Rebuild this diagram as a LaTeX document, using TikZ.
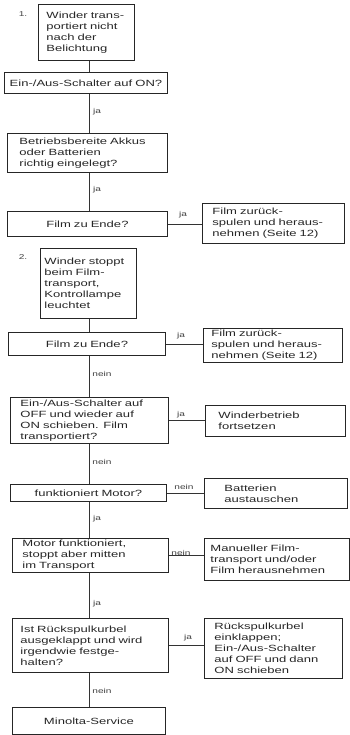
\documentclass[tikz,border=0pt]{standalone}
\usepackage{fontspec}
\newfontfamily\wf[FakeStretch=1.45]{Liberation Sans}
\begin{document}
\begin{tikzpicture}[x=1pt,y=-1pt,
  box/.style={draw=black!85,line width=0.9pt,inner ysep=0pt,align=left,anchor=north west,
    font=\wf\fontsize{9}{11}\selectfont,text=black!85},
  cbox/.style={box,align=center},
  lab/.style={font=\wf\fontsize{7}{9}\selectfont,text=black!75,inner sep=0pt},
  conn/.style={draw=black!80,line width=0.9pt}]
\useasboundingbox (0,0) rectangle (349,735);
\coordinate (vx) at (89,0);
% part 1
\node[box,text width=80,inner xsep=8,minimum height=56] (b1) at (38,4) {Winder trans-\\portiert nicht\\nach der\\Belichtung};
\node[lab] (n1) at (23,14) {1.};
\node[cbox,text width=157,inner xsep=3,minimum height=21] (b2) at (4,72) {Ein-/Aus-Schalter auf ON?};
\node[box,text width=136,inner xsep=12,minimum height=39] (b3) at (7,133) {Betriebsbereite Akkus\\oder Batterien\\richtig eingelegt?};
\node[cbox,text width=152,inner xsep=4,minimum height=25] (b4) at (7,211) {Film zu Ende?};
\node[box,text width=122,inner xsep=10,minimum height=40] (r1) at (202,203) {Film zurück-\\spulen und heraus-\\nehmen (Seite 12)};
% part 2
\node[lab] (n2) at (23,257) {2.};
\node[box,text width=88,inner xsep=4,minimum height=70] (b5) at (40,248) {Winder stoppt\\beim Film-\\transport,\\Kontrollampe\\leuchtet};
\node[cbox,text width=149,inner xsep=4,minimum height=23] (b6) at (8,332) {Film zu Ende?};
\node[box,text width=123,inner xsep=8,minimum height=34] (r2) at (203,328) {Film zurück-\\spulen und heraus-\\nehmen (Seite 12)};
\node[box,text width=138,inner xsep=10,minimum height=46] (b7) at (10,397) {Ein-/Aus-Schalter auf\\OFF und wieder auf\\ON schieben. Film\\transportiert?};
\node[box,text width=114,inner xsep=13,minimum height=31] (r3) at (205,405) {Winderbetrieb\\fortsetzen};
\node[cbox,text width=148,inner xsep=4,minimum height=17] (b8) at (10,484) {funktioniert Motor?};
\node[box,text width=103,inner xsep=20,minimum height=30] (r4) at (204,478) {Batterien\\austauschen};
\node[box,text width=136,inner xsep=10,minimum height=34] (b9) at (12,538) {Motor funktioniert,\\stoppt aber mitten\\im Transport};
\node[box,text width=133,inner xsep=6,minimum height=42] (r5) at (204,538) {Manueller Film-\\transport und/oder\\Film herausnehmen};
\node[box,text width=140,inner xsep=8,minimum height=54] (b10) at (12,618) {Ist Rückspulkurbel\\ausgeklappt und wird\\irgendwie festge-\\halten?};
\node[box,text width=118,inner xsep=10,minimum height=60] (r6) at (204,618) {Rückspulkurbel\\einklappen;\\Ein-/Aus-Schalter\\auf OFF und dann\\ON schieben};
\node[cbox,text width=145,inner xsep=4,minimum height=27] (b11) at (12,707) {Minolta-Service};
% vertical connectors
\draw[conn] (b1.south -| vx) -- (b2.north -| vx);
\draw[conn] (b2.south -| vx) -- (b3.north -| vx);
\draw[conn] (b3.south -| vx) -- (b4.north -| vx);
\draw[conn] (b5.south -| vx) -- (b6.north -| vx);
\draw[conn] (b6.south -| vx) -- (b7.north -| vx);
\draw[conn] (b7.south -| vx) -- (b8.north -| vx);
\draw[conn] (b8.south -| vx) -- (b9.north -| vx);
\draw[conn] (b9.south -| vx) -- (b10.north -| vx);
\draw[conn] (b10.south -| vx) -- (b11.north -| vx);
% horizontal connectors
\draw[conn] (b4.east) -- (r1.west |- b4.east);
\draw[conn] (b6.east) -- (r2.west |- b6.east);
\draw[conn] (b7.east) -- (r3.west |- b7.east);
\draw[conn] (b8.east) -- (r4.west |- b8.east);
\draw[conn] (b9.east) -- (r5.west |- b9.east);
\draw[conn] (b10.east) -- (r6.west |- b10.east);
% labels
\node[lab] (l1) at (97,112) {ja};
\node[lab] (l2) at (97,190) {ja};
\node[lab] (l3) at (183,215) {ja};
\node[lab] (l4) at (181,336) {ja};
\node[lab] (l5) at (102,374) {nein};
\node[lab] (l6) at (181,415) {ja};
\node[lab] (l7) at (102,462) {nein};
\node[lab] (l8) at (184,487) {nein};
\node[lab] (l9) at (97,519) {ja};
\node[lab] (l10) at (181,553) {nein};
\node[lab] (l11) at (97,604) {ja};
\node[lab] (l12) at (188,638) {ja};
\node[lab] (l13) at (102,691) {nein};
\end{tikzpicture}
\end{document}
